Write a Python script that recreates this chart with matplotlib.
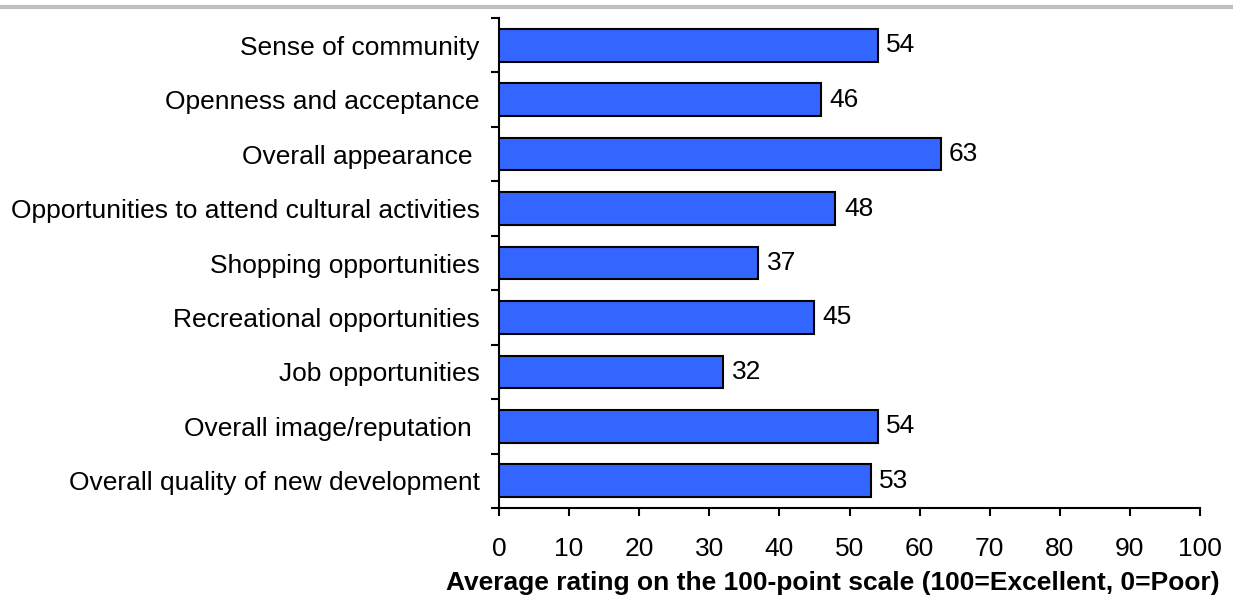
import matplotlib
matplotlib.use("Agg")
import matplotlib.pyplot as plt
import numpy as np
from matplotlib.lines import Line2D

plt.rcParams['font.family'] = ['Liberation Sans', 'DejaVu Sans']

categories = ["Sense of community", "Openness and acceptance", "Overall appearance ",
              "Opportunities to attend cultural activities", "Shopping opportunities",
              "Recreational opportunities", "Job opportunities", "Overall image/reputation ",
              "Overall quality of new development"]
values = [54, 46, 63, 48, 37, 45, 32, 54, 53]
xticks = list(range(0, 101, 10))

FS = 19

fig = plt.figure(figsize=(12.33, 6.04), dpi=100)
ax = fig.add_axes([499/1233, 1-508/604, (1200-499)/1233, (508-18)/604])

n = len(categories)
y = np.arange(n)[::-1]
ax.barh(y, values, height=0.6, color='#3366FF', edgecolor='black', linewidth=1.5, zorder=3)
for yi, v in zip(y, values):
    ax.text(v + 1.2, yi, str(v), va='center', ha='left', fontsize=FS)

ax.set_xlim(0, 100)
ax.set_ylim(-0.5, n - 0.5)
ax.set_xticks(xticks)
ax.set_xticklabels([str(t) for t in xticks], fontsize=FS)
ax.set_yticks(np.arange(-0.5, n, 1.0))
ax.set_yticklabels([])
ax.set_yticks(y, minor=True)
ax.set_yticklabels(categories, minor=True, fontsize=FS)
ax.tick_params(axis='y', which='minor', length=0, pad=14)
ax.tick_params(axis='y', which='major', length=6, width=1.5, direction='out')
ax.tick_params(axis='x', length=6, width=1.5, direction='out', pad=15)
for s in ['top', 'right']:
    ax.spines[s].set_visible(False)
for s in ['left', 'bottom']:
    ax.spines[s].set_linewidth(1.5)

fig.text(1220/1233, 1-583/604, "Average rating on the 100-point scale (100=Excellent, 0=Poor)",
         ha='right', va='center', fontsize=FS, fontweight='bold')

fig.add_artist(Line2D([0, 1], [1-6.5/604, 1-6.5/604], color='#C0C0C0', linewidth=3,
                      transform=fig.transFigure))

fig.savefig('out.png', dpi=100)
